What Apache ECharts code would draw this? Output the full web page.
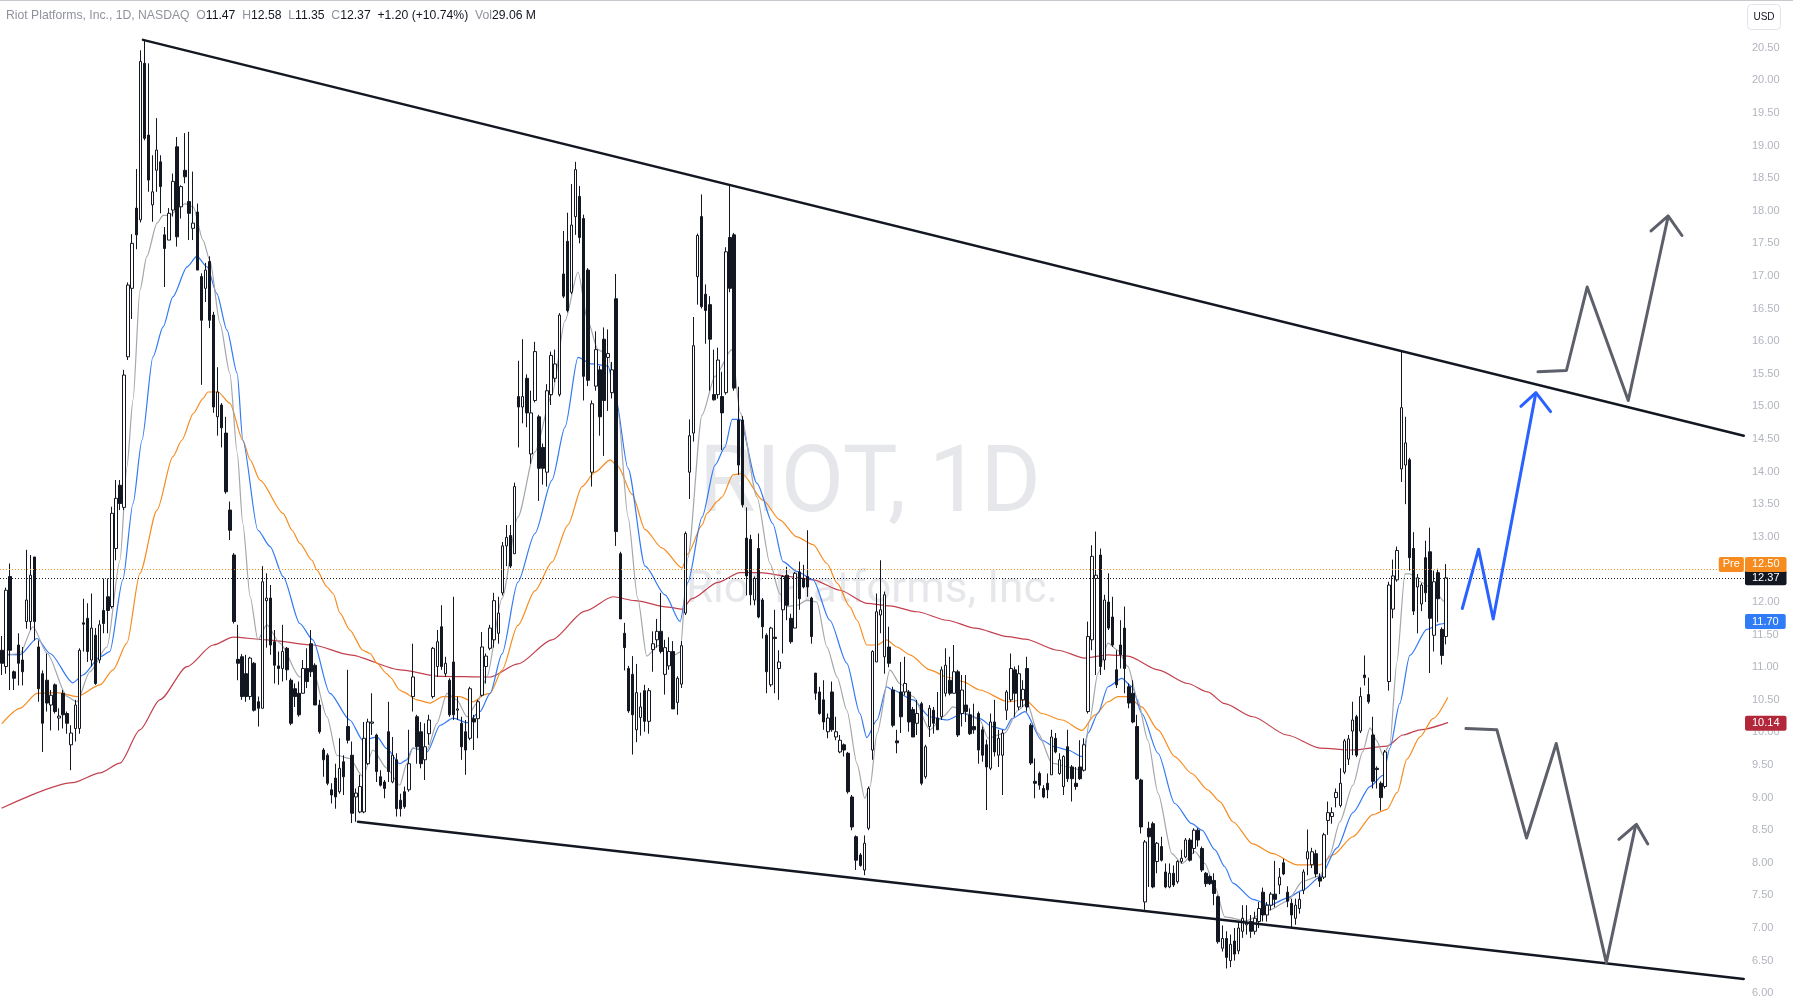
<!DOCTYPE html>
<html><head><meta charset="utf-8">
<script src="https://cdn.jsdelivr.net/npm/echarts@6.0.0/dist/echarts.min.js"></script>
<style>html,body{margin:0;padding:0;background:#fff;}#c{width:1793px;height:1007px;}</style>
</head><body><div id="c"></div><script>
// ---- DATA ----
// daily candles [open, close, low, high]
const candles = [
[11.26,11.06,10.88,11.48],[11.01,12.18,10.90,12.22],[12.39,11.26,10.65,12.59],[10.93,10.83,10.65,10.95],[11.34,11.06,10.72,11.52],
[11.11,10.93,10.72,11.31],[11.70,12.03,11.59,12.80],[11.70,12.41,11.57,12.72],[12.69,11.70,11.41,12.69],[11.31,10.67,10.47,11.41],
[10.90,10.14,9.70,10.95],[10.80,10.45,10.32,11.21],[10.42,10.57,10.03,10.65],[10.73,10.32,10.29,10.75],[10.22,10.25,10.03,10.37],
[10.60,10.27,10.06,10.65],[10.29,10.14,9.98,10.32],[9.81,9.99,9.42,10.11],[10.06,10.42,9.86,10.50],[10.06,11.26,9.98,11.29],
[11.68,11.66,11.24,12.05],[11.75,11.24,11.08,11.98],[11.11,11.60,11.01,12.13],[11.49,10.75,10.73,11.60],[11.11,11.65,11.06,11.72],
[11.87,11.67,11.52,12.36],[12.08,11.87,11.52,12.36],[11.93,13.36,11.90,13.46],[12.82,13.59,12.64,13.87],[13.79,13.51,13.41,13.87],
[13.45,15.48,13.41,15.56],[15.76,16.86,15.71,16.90],[16.81,17.50,16.34,17.64],[18.04,17.63,17.41,18.64],[17.86,20.29,17.82,20.46],
[20.26,19.11,19.08,20.62],[19.16,18.47,18.29,20.26],[18.09,18.29,17.83,18.85],[18.62,18.93,18.29,19.42],[18.75,18.37,17.96,18.85],
[17.63,17.42,16.83,17.75],[17.55,17.96,17.55,18.04],[18.01,18.45,17.91,18.57],[18.98,17.60,17.45,19.13],[18.06,18.37,17.88,18.39],
[18.62,18.52,18.42,19.19],[18.14,17.96,17.55,19.21],[17.73,17.81,17.55,18.60],[17.98,17.09,17.09,18.11],[16.99,16.32,15.33,17.04],
[16.81,17.09,16.60,17.20],[17.22,16.32,16.20,17.30],[16.40,14.99,14.90,16.45],[14.84,15.22,14.55,15.60],[15.02,14.67,14.37,15.05],
[14.59,13.69,13.66,14.84],[13.41,13.10,12.95,13.54],[12.72,11.70,11.67,12.75],[11.12,11.06,10.80,11.65],[11.16,10.55,10.50,11.20],
[10.90,10.55,10.47,11.19],[10.55,11.14,10.50,11.16],[11.06,10.34,10.32,11.08],[10.47,10.37,10.09,10.55],[10.37,12.31,10.37,12.55],
[12.02,12.06,11.30,12.44],[12.06,11.34,11.19,12.26],[11.39,11.03,10.75,11.57],[11.02,10.98,10.73,11.24],[10.98,11.24,10.78,11.65],
[11.29,10.96,10.80,11.31],[10.80,10.14,10.11,10.83],[10.67,10.55,10.39,10.75],[10.60,10.27,10.24,10.78],[10.60,10.98,10.60,11.11],
[10.98,10.78,10.68,11.29],[11.36,10.93,10.85,11.57],[11.03,10.42,10.42,11.06],[10.42,10.01,9.98,10.50],[9.73,9.58,9.32,9.76],
[9.65,9.22,9.19,9.68],[9.12,9.04,8.91,9.22],[9.30,9.01,8.83,9.52],[9.09,9.45,9.06,9.91],[9.55,9.32,9.04,9.65],
[10.09,9.88,9.83,10.96],[9.65,8.76,8.61,9.86],[9.01,9.07,8.63,9.14],[8.78,9.17,8.76,9.35],[8.78,9.91,8.76,10.16],
[9.52,10.16,9.50,10.21],[10.14,10.16,9.96,10.60],[9.96,9.40,9.24,9.98],[9.32,9.19,9.17,9.42],[9.24,9.14,8.99,9.27],
[10.01,9.40,9.24,10.47],[9.24,9.65,9.22,9.93],[9.58,8.83,8.71,9.68],[8.96,8.83,8.71,9.06],[9.09,8.86,8.83,9.17],
[9.12,9.52,9.09,10.04],[10.55,10.85,10.32,11.36],[10.24,9.78,9.52,10.27],[10.01,9.52,9.45,10.16],[9.58,9.78,9.27,10.14],
[9.98,10.19,9.81,10.27],[10.55,11.29,10.52,11.31],[11.01,11.39,10.85,11.57],[11.62,11.01,10.96,11.95],[10.90,11.06,10.85,11.16],
[10.80,10.27,10.24,10.83],[11.08,10.27,10.19,12.08],[10.34,10.36,10.19,10.55],[10.14,9.78,9.58,10.24],[10.01,9.73,9.35,10.19],
[9.91,10.67,9.88,10.70],[10.21,10.16,9.73,10.27],[10.21,10.47,9.91,10.50],[10.57,11.31,10.55,11.54],[11.01,11.17,10.75,11.21],
[11.29,11.60,11.26,11.65],[11.42,12.02,11.30,12.14],[11.52,11.83,11.36,12.08],[12.14,12.86,12.10,12.92],[12.86,12.99,12.55,13.18],
[13.02,12.55,12.52,13.18],[12.74,13.77,12.74,13.83],[15.15,14.99,14.37,15.70],[14.99,15.15,14.74,16.03],[15.43,14.90,14.68,15.49],
[14.27,14.90,14.12,15.24],[15.09,15.84,15.06,15.99],[14.84,14.05,13.55,14.87],[14.37,14.05,13.80,14.43],[13.99,15.24,13.77,15.34],
[15.18,15.78,15.02,15.84],[15.43,15.65,15.37,15.87],[15.18,16.40,15.15,16.43],[17.03,16.69,16.66,17.69],[17.53,16.47,16.44,17.97],
[16.75,17.78,16.72,18.41],[17.91,18.63,17.63,18.75],[18.22,17.59,17.50,18.38],[17.88,15.46,15.09,17.94],[17.09,15.40,15.31,17.12],
[13.99,15.04,13.77,15.09],[15.31,15.87,15.24,16.15],[15.56,14.84,14.55,15.62],[16.03,15.09,14.24,16.21],[15.75,15.81,14.93,16.18],
[15.21,15.56,15.12,15.68],[16.65,13.08,12.86,17.03],[12.74,11.74,11.74,12.77],[11.52,11.30,10.95,11.68],[10.98,10.33,10.30,11.02],
[10.89,10.27,9.66,11.17],[10.04,10.61,9.85,11.05],[10.23,10.39,9.95,10.61],[10.64,10.17,10.01,10.73],[10.17,10.64,9.98,10.68],
[11.27,11.36,10.93,11.55],[11.42,11.55,11.30,11.74],[11.55,11.24,11.21,12.14],[10.89,11.30,10.58,11.42],[11.02,11.24,10.96,11.46],
[11.24,10.36,10.36,11.40],[10.46,10.83,10.27,10.86],[10.74,11.33,10.68,11.40],[11.83,13.05,11.80,13.08],[13.99,14.55,13.58,14.80],
[14.59,15.93,14.46,16.37],[16.99,17.62,16.56,17.65],[17.91,16.53,16.50,18.25],[16.72,16.47,15.96,16.87],[16.56,16.03,15.24,16.69],
[15.18,15.10,15.09,15.87],[15.18,15.71,15.12,15.90],[15.15,14.90,14.33,15.53],[15.21,17.37,15.18,17.44],[17.59,16.81,16.75,18.38],
[17.63,15.28,15.24,17.66],[14.79,14.10,13.95,15.30],[14.79,13.49,13.45,14.85],[12.98,12.40,12.10,13.45],[12.96,12.11,11.95,13.03],
[12.03,12.36,11.95,12.39],[12.82,11.77,11.75,13.05],[12.03,11.62,11.44,12.06],[11.49,10.93,10.60,11.52],[10.73,11.60,10.70,11.62],
[11.46,11.44,10.60,11.88],[10.98,11.08,10.50,11.26],[11.88,12.39,11.21,12.41],[12.41,11.95,11.72,12.54],[11.75,11.39,11.36,11.82],
[11.60,12.44,11.60,12.46],[12.46,12.05,11.88,12.62],[12.36,12.23,12.21,12.57],[12.39,12.23,12.08,13.10],[12.06,11.47,11.36,12.08],
[10.91,10.60,10.50,10.91],[10.62,10.29,10.27,10.70],[10.50,10.16,10.04,10.80],[10.01,10.22,9.91,10.29],[10.62,10.04,10.01,10.78],
[9.93,10.01,9.88,10.24],[9.70,9.88,9.68,9.96],[9.81,9.73,9.63,9.83],[9.68,9.09,9.06,9.70],[9.01,8.55,8.50,9.04],
[8.40,8.04,7.89,8.42],[8.12,7.96,7.94,8.15],[7.89,8.30,7.81,8.42],[8.53,9.14,8.50,9.17],[9.73,11.24,9.58,11.26],
[11.08,11.85,11.08,12.13],[11.80,11.88,11.52,12.64],[11.16,12.11,10.90,12.16],[11.31,11.06,11.00,11.62],[10.65,10.11,10.08,10.70],
[9.87,9.84,9.68,10.04],[10.62,10.24,9.99,11.08],[10.62,10.75,10.57,11.16],[10.62,10.16,10.01,10.65],[10.35,9.93,9.93,10.39],
[10.14,10.29,9.96,10.50],[10.44,9.22,9.19,10.47],[9.32,9.78,9.29,9.81],[10.09,10.37,9.93,10.42],[10.34,10.14,9.98,10.39],
[10.22,10.04,10.04,10.62],[10.24,10.96,10.19,11.01],[10.60,11.03,10.55,11.29],[10.80,10.60,10.57,11.16],[10.60,10.93,10.60,11.34],
[10.93,9.96,9.93,10.96],[10.29,10.65,10.09,10.88],[10.42,10.32,10.16,10.88],[10.27,9.98,9.96,10.37],[10.09,10.04,9.98,10.44],
[10.29,9.73,9.52,10.32],[10.04,9.65,9.55,10.09],[9.81,9.47,8.81,9.89],[9.45,10.16,9.42,10.29],[10.16,9.70,9.63,10.50],
[9.65,9.91,9.47,10.04],[9.65,9.99,9.04,10.04],[10.34,10.62,10.19,10.65],[10.50,10.98,10.47,11.21],[10.96,10.60,10.24,11.01],
[10.39,10.90,10.34,11.03],[10.50,10.66,10.39,10.80],[10.98,10.39,10.32,11.16],[10.11,9.53,9.50,10.14],[9.25,9.22,8.99,9.60],
[9.37,9.19,9.12,9.40],[9.14,9.01,8.99,9.19],[9.22,9.12,8.99,9.37],[9.35,9.93,9.35,10.04],[9.91,9.70,9.68,9.99],
[9.37,9.58,9.35,9.68],[9.17,9.63,9.04,9.65],[9.78,9.29,9.24,10.04],[9.47,9.29,8.94,9.50],[9.22,9.17,9.12,9.47],
[9.47,9.29,9.27,9.88],[9.42,9.81,9.40,9.91],[10.32,11.47,10.29,11.70],[11.42,12.70,11.26,12.87],[12.36,12.41,10.88,13.08],
[12.72,11.01,10.88,12.82],[11.11,12.03,10.96,12.11],[12.00,11.60,11.57,12.44],[11.77,11.34,11.31,12.08],[10.96,10.73,10.68,11.26],
[11.34,11.19,10.98,11.72],[11.60,10.98,10.60,11.93],[10.70,10.45,10.37,10.75],[10.60,10.16,10.14,10.80],[10.09,9.29,9.27,10.27],
[9.27,8.55,8.45,9.29],[7.40,8.32,7.28,8.35],[8.53,8.40,7.63,8.63],[8.60,7.63,7.61,8.63],[8.02,8.30,7.84,8.32],
[8.25,8.04,8.02,8.40],[7.86,7.63,7.61,7.99],[7.63,7.84,7.61,7.99],[7.84,7.66,7.63,7.96],[7.71,8.02,7.68,8.04],
[8.02,8.07,7.99,8.20],[8.09,8.35,8.07,8.38],[8.35,8.04,8.02,8.38],[8.22,8.50,8.14,8.53],[8.50,8.35,8.25,8.53],
[8.22,7.89,7.86,8.25],[7.84,7.68,7.63,7.86],[7.79,7.68,7.66,7.81],[7.73,7.53,7.35,7.84],[7.48,6.79,6.76,7.50],
[6.69,6.84,6.64,7.04],[6.84,6.55,6.38,6.95],[6.50,6.75,6.40,6.90],[6.80,6.60,6.50,7.00],[6.65,7.00,6.60,7.10],
[6.95,7.15,6.85,7.35],[7.05,7.08,6.90,7.35],[7.10,6.95,6.85,7.20],[6.95,7.15,6.90,7.25],[7.10,7.30,7.00,7.40],
[7.55,7.20,7.10,7.62],[7.20,7.35,7.10,7.40],[7.35,7.52,7.27,7.55],[7.52,7.44,7.32,8.03],[7.66,7.78,7.52,7.92],
[8.00,7.83,7.81,8.06],[7.55,7.41,7.32,7.64],[7.38,7.20,7.00,7.45],[7.15,7.35,7.05,7.45],[7.30,7.44,7.22,7.55],
[7.58,7.86,7.52,7.90],[8.06,8.17,7.81,8.51],[7.97,8.17,7.92,8.23],[8.14,7.83,7.78,8.20],[7.78,7.72,7.63,7.84],
[7.78,8.43,7.75,8.46],[8.65,8.77,8.43,8.94],[8.71,8.77,8.60,8.85],[9.00,9.08,8.85,9.14],[8.88,9.22,8.85,9.45],
[9.39,9.87,9.36,9.90],[9.59,9.90,9.50,9.96],[10.02,10.19,9.65,10.47],[10.24,9.65,9.62,10.27],[10.02,10.55,9.99,10.69],
[10.88,10.84,10.72,11.18],[10.58,10.47,10.44,10.84],[9.96,9.25,9.14,10.24],[9.45,9.43,9.14,9.48],[9.22,9.00,8.80,9.25],
[9.17,9.70,9.14,9.73],[10.78,12.26,10.64,12.31],[11.89,12.40,11.75,12.65],[12.34,12.79,12.31,12.85],[14.04,14.98,13.84,15.86],
[14.10,14.44,13.50,14.84],[14.18,12.68,12.48,14.21],[12.82,11.86,11.80,13.07],[12.23,12.37,11.52,12.43],[11.97,12.26,11.86,12.29],
[12.68,12.14,12.00,12.94],[12.77,11.75,10.91,13.14],[11.49,12.31,11.24,12.48],[12.45,12.05,11.69,12.51],[11.58,11.18,11.04,11.61],
[11.47,12.37,11.35,12.58]
];
const totalSlots = 429;            // candles plus empty space on the right
const categories = Array.from({length: totalSlots}, (_, i) => 'D' + i);

// moving averages: [candle index, price]
const maFast = [[0,11.16],[4.4,11.21],[7.6,11.62],[11.1,11.21],[16,10.55],[18.4,10.47],[21.6,10.93],[25.8,11.31],[29,12.64],[30.7,14.07],[32.2,15.10],[33.9,16.78],[35.6,17.30],[38.1,17.81],[39.6,17.93],[41.3,17.93],[43.7,18.06],[45,18.11],[47,18.06],[49.4,17.55],[51.1,17.24],[53.6,16.27],[56,15.51],[57.8,14.3],[59.2,13.2],[61,12.08],[62.9,11.42],[65.1,11.65],[68.3,11.37],[73.2,10.85],[76.4,10.96],[79.9,10.24],[82.3,9.65],[85.5,9.60],[88.7,9.32],[91.2,9.73],[94.6,9.45],[97.8,9.19],[99.5,9.52],[101,9.76],[104.5,9.73],[106.9,10.14],[109.4,10.60],[111.8,10.50],[114.3,10.24],[116.8,10.45],[119.2,10.85],[122.9,12.05],[126.8,13.30],[131,14.30],[135.2,15.18],[138.4,16.31],[141.6,17.06],[144,16.31],[146.5,15.87],[149,15.78],[151.4,14.93],[153.9,13.30],[156.3,12.05],[158.5,11.17],[161.3,11.33],[164.7,11.17],[166.7,11.23],[168.6,12.68],[172.1,14.87],[175.3,15.46],[179.4,15.87],[181.5,14.9],[185.6,13.61],[188.8,12.59],[191.2,12.13],[193,11.93],[195.4,11.95],[197.9,12.03],[200.3,12.00],[202.8,11.31],[205.3,10.85],[207.7,10.34],[210.2,9.52],[212.1,8.99],[213.4,9.17],[215.1,9.98],[218.3,10.96],[220.7,10.75],[224,10.55],[228.1,10.04],[231.3,10.24],[233.8,10.39],[237.2,10.29],[240.4,10.19],[242.4,9.91],[246.5,9.99],[249.8,10.34],[252,10.45],[254.7,9.99],[258.1,9.53],[262,9.47],[265.5,9.42],[267.4,10.19],[269.4,10.90],[271.9,11.37],[274.3,11.26],[276.8,11.01],[279.2,10.50],[281.7,9.88],[284.2,9.07],[287.6,8.14],[290.1,7.99],[293.3,8.17],[295.7,7.99],[298.2,7.63],[300.6,7.17],[305.8,7.11],[311.7,7.28],[315.9,7.41],[319.8,7.72],[324,7.80],[326.4,8.12],[328.9,8.63],[332.1,9.19],[334.5,9.70],[336.3,10.07],[338,9.87],[339.5,9.65],[341.2,9.82],[342.9,11.07],[344.9,12.43],[346.1,12.43],[348.6,12.31],[351.8,12.20],[354.7,12.0],[355.4,11.95]];
const ma20 = [[0,11.20],[4.4,11.19],[8.6,11.44],[11.8,11.21],[17.4,10.76],[19.9,10.88],[24.1,11.16],[26.5,11.24],[29.7,12.34],[32.2,13.51],[34.4,14.48],[37.1,15.76],[39.6,16.22],[42,16.68],[45.5,17.14],[47.9,17.30],[50.4,17.14],[52.8,16.73],[55.3,16.17],[57.8,15.51],[59.2,14.48],[62.9,13.10],[65.9,12.85],[69.1,12.39],[73.2,11.67],[76.4,11.42],[80.6,10.60],[85.5,10.19],[88.7,9.88],[92.2,9.93],[94.6,9.75],[97.8,9.52],[99.5,9.58],[101,9.76],[104.5,9.70],[107.7,10.11],[110.9,10.22],[114.3,10.15],[117.5,10.32],[120,10.60],[122.9,11.20],[126.8,12.30],[131,13.05],[135.2,13.87],[138.4,14.68],[141.6,15.75],[145,15.65],[149,15.62],[150.7,15.18],[153.9,14.05],[158.1,12.55],[163,12.11],[166.7,11.70],[168.6,12.30],[172.1,13.30],[175.3,14.10],[177.7,14.37],[179.5,14.80],[181.4,14.80],[185.6,13.82],[189.5,13.20],[192,12.62],[195.4,12.47],[199.4,12.34],[203.5,11.72],[207.7,11.06],[210.9,10.29],[212.6,9.92],[215.1,10.19],[217.5,10.70],[219,10.65],[224,10.50],[228.1,10.24],[232.3,10.19],[236.2,10.29],[240.4,10.21],[243.4,10.09],[246.5,10.04],[248.3,10.21],[251.5,10.32],[255.6,9.88],[258.8,9.78],[262,9.73],[265.5,9.63],[267,9.99],[269.4,10.29],[271.9,10.70],[275.3,10.83],[277.8,10.70],[280.2,10.29],[284.2,9.68],[288.3,8.91],[292.5,8.60],[295,8.50],[298.2,8.20],[300.6,7.94],[302.6,7.69],[307.5,7.44],[311.7,7.35],[315.9,7.46],[319.8,7.58],[324,7.78],[328.2,8.23],[332.1,8.77],[336.3,9.17],[339.5,9.34],[341.2,9.76],[343.6,10.44],[346.1,11.18],[350.3,11.58],[353.5,11.66],[355.4,11.69]];
const ma50 = [[0,10.14],[4.4,10.37],[8.6,10.60],[13.5,10.61],[18.4,10.55],[24.1,10.73],[27.3,10.96],[30.7,11.37],[33.9,12.44],[38.1,13.41],[42,14.23],[44.2,14.48],[47,14.89],[49.4,15.12],[50.6,15.22],[53.1,15.22],[56,15.05],[59.2,14.48],[61,14.18],[63.4,13.87],[69.1,13.36],[71.3,13.10],[73.2,12.90],[76.2,12.64],[77.4,12.49],[79.9,12.23],[81.4,12.13],[83.1,11.83],[85.5,11.57],[88.7,11.26],[90.5,11.21],[92.2,11.06],[94.6,10.90],[95.4,10.85],[97.8,10.65],[98.6,10.62],[102,10.50],[105.2,10.45],[108.4,10.55],[112.6,10.55],[115.8,10.47],[118.7,10.58],[120,10.60],[122.9,10.95],[126.8,11.64],[131,12.17],[135.2,12.61],[139.1,13.18],[142.6,13.77],[145.8,13.99],[149.5,14.18],[151.4,14.08],[154.9,13.65],[158.1,13.11],[162.2,12.83],[167.2,12.52],[168.6,12.74],[172.1,13.18],[173.3,13.36],[176,13.55],[177,13.61],[179.7,13.95],[181.9,13.97],[187.1,13.56],[191.2,13.26],[195.4,13.00],[199.4,12.88],[202.8,12.59],[205.3,12.29],[208.4,11.93],[210.2,11.72],[212.6,11.34],[215.1,11.34],[217.5,11.42],[220,11.31],[223.2,11.19],[228.1,10.96],[232.3,10.85],[236.2,10.78],[240.4,10.65],[247.3,10.47],[251.5,10.50],[255.6,10.29],[260.6,10.19],[265.5,10.03],[268.7,10.27],[271.9,10.47],[274.3,10.55],[276.8,10.55],[280.2,10.39],[284.2,10.04],[288.3,9.63],[292.5,9.37],[296.4,9.12],[299.4,8.94],[302.6,8.63],[307.5,8.29],[312.4,8.14],[318.3,7.97],[324,7.97],[327.2,8.12],[332.1,8.40],[337,8.74],[340.5,8.82],[343,9.08],[345.4,9.59],[348.6,9.93],[351.8,10.21],[355.4,10.53]];
const ma200 = [[0,8.84],[17.4,9.23],[24.1,9.38],[29,9.53],[33.9,10.04],[38.8,10.50],[45.5,11.01],[51.9,11.34],[56.8,11.46],[65.1,11.42],[76.4,11.34],[85.5,11.19],[97.8,10.96],[107.7,10.86],[120,10.85],[126.8,11.05],[135.2,11.42],[143.3,11.86],[150.2,12.08],[155.6,12.02],[163.7,11.92],[167.2,11.89],[169.6,12.05],[176,12.30],[181.4,12.45],[186.3,12.45],[193.7,12.39],[199.4,12.34],[206,12.18],[212.6,11.98],[218.3,11.94],[224.9,11.85],[232.3,11.72],[239.2,11.60],[247.3,11.47],[251.5,11.43],[259.6,11.26],[266.2,11.14],[271.9,11.19],[276.8,11.17],[284.2,10.96],[291.5,10.75],[296.4,10.62],[300.6,10.44],[307.5,10.24],[315.9,9.96],[324,9.76],[332.1,9.73],[340.5,9.79],[344.4,9.96],[348.6,10.04],[355.4,10.15]];

// drawings: [candle index, price]
const upperTrend = [[34.65,20.62],[428.2,14.55]];
const lowerTrend = [[87.5,8.63],[428.2,6.22]];
const arrowUpGray = [[377.6,15.53],[384.6,15.55],[389.7,16.83],[399.8,15.09],[409.5,17.88]];
const arrowUpGrayHead = [[405.4,17.69],[409.6,17.92],[413.0,17.62]];
const arrowBlue = [[359.0,11.90],[363.0,12.81],[366.6,11.74],[377.0,15.18]];
const arrowBlueHead = [[373.4,15.00],[377.1,15.21],[380.7,14.92]];
const arrowDownGray = [[359.9,10.06],[367.5,10.04],[374.8,8.38],[382.1,9.83],[394.4,6.47],[401.6,8.57]];
const arrowDownGrayHead = [[397.5,8.36],[401.8,8.59],[404.6,8.29]];

// price levels and tags
const lastClose = 12.37, preMarket = 12.50, ma20Last = 11.70, ma200Last = 10.14;
const preLineEnd = 421.8;
const yTickMin = 5.5, yTickMax = 21.5, yTickStep = 0.5;

// ---- CHART ----
const FONT = '"Liberation Sans", Arial, sans-serif';
const chart = echarts.init(document.getElementById('c'), null, {renderer: 'canvas'});

function tag(text, bg, extra) {
  return Object.assign({
    show: true, position: 'end', distance: 0, formatter: text, color: '#ffffff',
    backgroundColor: bg, padding: [2, 7, 2, 7], borderRadius: 2,
    fontSize: 11, fontFamily: FONT, lineHeight: 11
  }, extra || {});
}
function lineSeries(name, data, color, width, z) {
  return {
    name, type: 'line', xAxisIndex: 1, yAxisIndex: 0, data, showSymbol: false, symbol: 'none',
    smooth: 0.25, smoothMonotone: 'x', z: z, silent: true,
    lineStyle: {color, width, cap: 'round', join: 'round'}
  };
}
function drawSeries(name, data, color, width, z) {
  return {
    name, type: 'line', xAxisIndex: 1, yAxisIndex: 0, data, showSymbol: false, symbol: 'none',
    z: z, silent: true, lineStyle: {color, width, cap: 'round', join: 'round'}
  };
}
const HIDDEN = {color: 'rgba(0,0,0,0)', width: 1, type: 'solid'};

const option = {
  animation: false,
  backgroundColor: '#ffffff',
  grid: {left: 0, right: 48, top: -17.51, bottom: -18.85, containLabel: false, outerBoundsMode: 'none'},
  xAxis: [
    {type: 'category', data: categories, boundaryGap: true, show: false},
    {type: 'value', min: -0.5, max: totalSlots - 0.5, show: false}
  ],
  yAxis: {
    type: 'value', position: 'right', min: yTickMin, max: yTickMax, interval: yTickStep,
    axisLine: {show: false}, axisTick: {show: false}, splitLine: {show: false},
    axisLabel: {color: '#b2b5be', fontSize: 11, fontFamily: FONT, margin: 7, align: 'left',
      formatter: v => v.toFixed(2)}
  },
  graphic: [
    {type: 'rect', shape: {x: 0, y: 0, width: 1793, height: 1}, style: {fill: '#c7c9cf'}, z: 100},
    {type: 'text', z: 0, style: {x: 870, y: 488, text: 'RIOT, 1D', fill: '#e6e7ea',
      font: '92px Roboto', align: 'center', verticalAlign: 'middle'}},
    {type: 'text', z: 0, style: {x: 872, y: 591, text: 'Riot Platforms, Inc.', fill: '#e6e7ea',
      font: '44px Roboto', align: 'center', verticalAlign: 'middle'}},
    {type: 'text', z: 100, style: {x: 6, y: 16, verticalAlign: 'middle',
      text: '{g|Riot Platforms, Inc., 1D, NASDAQ}  {g|O}{v|11.47}  {g|H}{v|12.58}  {g|L}{v|11.35}  {g|C}{v|12.37}  {v|+1.20 (+10.74%)}  {g|Vol}{v|29.06 M}',
      font: '12.2px ' + FONT,
      rich: {g: {fill: '#8f929b', fontSize: 12.2, fontFamily: FONT}, v: {fill: '#131722', fontSize: 12.2, fontFamily: FONT}}}},
    {type: 'rect', z: 100, shape: {x: 1747.5, y: 4.5, width: 33, height: 25, r: 4},
      style: {fill: '#ffffff', stroke: '#e0e3eb', lineWidth: 1}},
    {type: 'text', z: 101, style: {x: 1764, y: 17, text: 'USD', fill: '#131722', font: '10px ' + FONT,
      align: 'center', verticalAlign: 'middle'}}
  ],
  series: [
    lineSeries('MA200', ma200, '#c2404d', 1.2, 2),
    lineSeries('MA50', ma50, '#f68c1f', 1.2, 2),
    lineSeries('MA20', ma20, '#3179f5', 1.2, 2),
    lineSeries('MAfast', maFast, '#a5a6ab', 1.2, 2),
    {
      name: 'RIOT', type: 'candlestick', xAxisIndex: 0, yAxisIndex: 0, data: candles, barWidth: 3, z: 3,
      silent: true,
      itemStyle: {color: '#ffffff', color0: '#131722', borderColor: '#131722', borderColor0: '#131722', borderWidth: 1}
    },
    Object.assign(drawSeries('upperTrend', upperTrend, '#131722', 2.5, 5), {
      markLine: {
        silent: true, symbol: ['none', 'none'], animation: false, z: 6,
        data: [
          [{coord: [-0.5, preMarket], lineStyle: {color: '#f68c1f', type: [1, 2], width: 1},
            label: tag('Pre', '#f68c1f', {padding: [2, 4, 2, 4], distance: 1, offset: [0, -5]})},
           {coord: [preLineEnd, preMarket], lineStyle: {color: '#f68c1f', type: [1, 2], width: 1},
            label: tag('Pre', '#f68c1f', {padding: [2, 4, 2, 4], distance: 1, offset: [0, -5]})}],
          {yAxis: lastClose, lineStyle: {color: '#131722', type: [1, 2], width: 1},
            label: tag(lastClose.toFixed(2), '#131722')},
          {yAxis: preMarket, lineStyle: HIDDEN,
            label: tag(preMarket.toFixed(2), '#f68c1f', {offset: [0, -5]})},
          {yAxis: ma20Last, lineStyle: HIDDEN,
            label: tag(ma20Last.toFixed(2), '#2f7cf6')},
          {yAxis: ma200Last, lineStyle: HIDDEN,
            label: tag(ma200Last.toFixed(2), '#b2283a')}
        ]
      }
    }),
    drawSeries('lowerTrend', lowerTrend, '#131722', 2.5, 5),
    drawSeries('arrowUpGray', arrowUpGray, '#5d606b', 3, 6),
    drawSeries('arrowUpGrayHead', arrowUpGrayHead, '#5d606b', 3, 6),
    drawSeries('arrowBlue', arrowBlue, '#2962ff', 3, 6),
    drawSeries('arrowBlueHead', arrowBlueHead, '#2962ff', 3, 6),
    drawSeries('arrowDownGray', arrowDownGray, '#5d606b', 3, 6),
    drawSeries('arrowDownGrayHead', arrowDownGrayHead, '#5d606b', 3, 6)
  ]
};
chart.setOption(option);
</script></body></html>
